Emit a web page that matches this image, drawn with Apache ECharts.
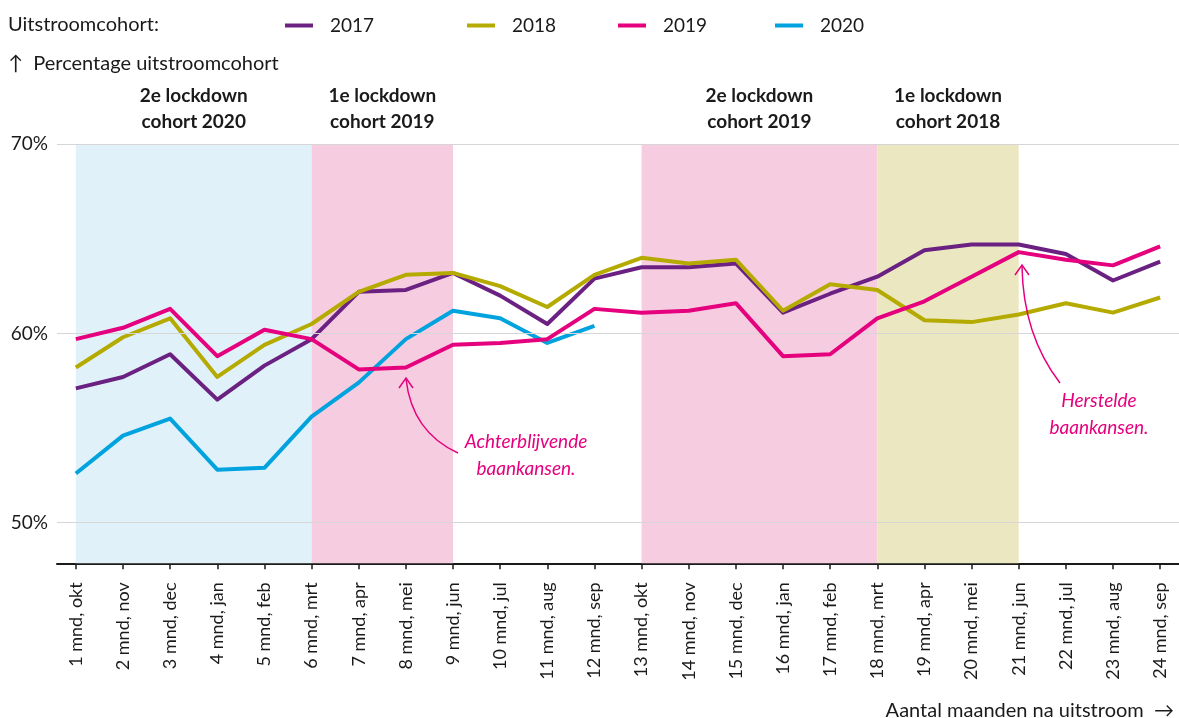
<!DOCTYPE html>
<html>
<head>
<meta charset="utf-8">
<script src="https://cdn.jsdelivr.net/npm/echarts@6/dist/echarts.min.js"></script>
<style>
  html, body { margin: 0; padding: 0; background: #fff; }
  #chart { width: 1179px; height: 718px; }
</style>
</head>
<body>
<div id="chart"></div>
<script>
// maanden na uitstroom
var categories = ['1 mnd, okt', '2 mnd, nov', '3 mnd, dec', '4 mnd, jan', '5 mnd, feb', '6 mnd, mrt',
    '7 mnd, apr', '8 mnd, mei', '9 mnd, jun', '10 mnd, jul', '11 mnd, aug', '12 mnd, sep',
    '13 mnd, okt', '14 mnd, nov', '15 mnd, dec', '16 mnd, jan', '17 mnd, feb', '18 mnd, mrt',
    '19 mnd, apr', '20 mnd, mei', '21 mnd, jun', '22 mnd, jul', '23 mnd, aug', '24 mnd, sep'];

// percentage uitstroomcohort
var cohort2017 = [57.1, 57.7, 58.9, 56.5, 58.3, 59.7, 62.2, 62.3, 63.2, 62.0, 60.5, 62.9,
    63.5, 63.5, 63.7, 61.1, 62.1, 63.0, 64.4, 64.7, 64.7, 64.2, 62.8, 63.8];
var cohort2018 = [58.2, 59.8, 60.8, 57.7, 59.4, 60.5, 62.2, 63.1, 63.2, 62.5, 61.4, 63.1,
    64.0, 63.7, 63.9, 61.2, 62.6, 62.3, 60.7, 60.6, 61.0, 61.6, 61.1, 61.9];
var cohort2019 = [59.7, 60.3, 61.3, 58.8, 60.2, 59.7, 58.1, 58.2, 59.4, 59.5, 59.7, 61.3,
    61.1, 61.2, 61.6, 58.8, 58.9, 60.8, 61.7, 63.0, 64.3, 63.9, 63.6, 64.6];
var cohort2020 = [52.6, 54.6, 55.5, 52.8, 52.9, 55.6, 57.4, 59.7, 61.2, 60.8, 59.5, 60.4];

var yTicks = [50, 60, 70];

// lockdown periodes (maandnummer van - tot)
var lockdowns = [
    { from: 1,  to: 6,  label: '2e lockdown\ncohort 2020', color: '#e0f1fa' },
    { from: 6,  to: 9,  label: '1e lockdown\ncohort 2019', color: '#f6cde0' },
    { from: 13, to: 18, label: '2e lockdown\ncohort 2019', color: '#f6cde0' },
    { from: 18, to: 21, label: '1e lockdown\ncohort 2018', color: '#ebe8c1' }
];

var colors = ['#6b2182', '#b5aa00', '#e5007d', '#00a3de'];
var names  = ['2017', '2018', '2019', '2020'];
var sets   = [cohort2017, cohort2018, cohort2019, cohort2020];
var font   = 'Lato';

function pairs(values)
{
    return values.map(function(v, i) { return [i + 1, v]; });
}

var monthIdx = categories.map(function(c, i) { return i + 1; });

var series = [];
sets.forEach(function(set, i)
{
    var s = {
        name: names[i],
        type: 'line',
        data: pairs(set),
        color: colors[i],
        symbol: 'none',
        z: 3 + (i == 2 ? 2 : i == 3 ? 1 : 0),
        lineStyle: { width: 4, color: colors[i], join: 'round' }
    };
    if(i == 0)
    {
        s.markArea = {
            silent: true,
            data: lockdowns.map(function(l)
            {
                return [
                    { xAxis: l.from, itemStyle: { color: l.color }, label: { show: true, formatter: l.label } },
                    { xAxis: l.to }
                ];
            }),
            label: {
                position: 'top',
                distance: 9,
                fontFamily: font,
                fontWeight: 'bold',
                fontSize: 19,
                lineHeight: 26,
                color: '#1a1a1a'
            }
        };
        s.markLine = {
            silent: true,
            symbol: 'none',
            label: { show: false },
            lineStyle: { color: '#d6d6d6', width: 1, type: 'solid' },
            data: yTicks.map(function(t) { return { yAxis: t }; })
        };
    }
    series.push(s);
});

var legendLeft = [280, 462, 613, 770];
var legends = names.map(function(n, i)
{
    return {
        data: [n],
        left: legendLeft[i],
        top: 11,
        icon: 'rect',
        itemWidth: 28,
        itemHeight: 4,
        textStyle: { fontFamily: font, fontSize: 19, color: '#1a1a1a', padding: [0, 0, 0, 12] }
    };
});

var chart = echarts.init(document.getElementById('chart'));
var option = {
    animation: false,
    backgroundColor: '#fff',
    legend: legends,
    title: [
        { text: 'Uitstroomcohort:', left: 3, top: 10, textStyle: { fontFamily: font, fontSize: 20, fontWeight: 'normal', color: '#1a1a1a' } },
        { text: '↑  Percentage uitstroomcohort', left: 3, top: 49, textStyle: { fontFamily: font, fontSize: 20, fontWeight: 'normal', color: '#1a1a1a' } },
        { text: 'Aantal maanden na uitstroom  →', right: 0, top: 696, textStyle: { fontFamily: font, fontSize: 20, fontWeight: 'normal', color: '#1a1a1a' } }
    ],
    grid: { left: 57, right: 0, top: 144.3, bottom: 154.7, containLabel: false },
    xAxis: {
        type: 'value',
        min: 0.6,
        max: 24.4,
        splitLine: { show: false },
        axisLine: { show: true, lineStyle: { color: '#1a1a1a', width: 2 } },
        axisTick: { show: true, customValues: monthIdx, length: 6, lineStyle: { color: '#1a1a1a', width: 1.5 } },
        axisLabel: {
            customValues: monthIdx,
            rotate: 90,
            margin: 19,
            fontFamily: font,
            fontSize: 18,
            color: '#1a1a1a',
            formatter: function(v) { return categories[Math.round(v) - 1] || ''; }
        }
    },
    yAxis: {
        type: 'value',
        min: 47.85,
        max: 70,
        splitLine: { show: false },
        axisLine: { show: false },
        axisTick: { show: false },
        axisLabel: {
            customValues: yTicks,
            margin: 9,
            fontFamily: font,
            fontSize: 19,
            color: '#1a1a1a',
            formatter: '{value}%'
        }
    },
    graphic: [
        { type: 'bezierCurve', silent: true, z: 20,
          shape: { x1: 458, y1: 453, x2: 406, y2: 379, cpx1: 412, cpy1: 432 },
          style: { stroke: '#e5007d', lineWidth: 1.5, fill: null } },
        { type: 'polyline', silent: true, z: 20,
          shape: { points: [[399, 388], [406, 378], [413, 388]] },
          style: { stroke: '#e5007d', lineWidth: 1.5, fill: null } },
        { type: 'text', silent: true, z: 20, x: 526, y: 428,
          style: { text: 'Achterblijvende\nbaankansen.', fontFamily: font, fontStyle: 'italic', fontSize: 19, lineHeight: 27, fill: '#e5007d', align: 'center' } },
        { type: 'bezierCurve', silent: true, z: 20,
          shape: { x1: 1060, y1: 383, x2: 1022, y2: 266, cpx1: 1023, cpy1: 335 },
          style: { stroke: '#e5007d', lineWidth: 1.5, fill: null } },
        { type: 'polyline', silent: true, z: 20,
          shape: { points: [[1015, 275], [1022, 265], [1029, 275]] },
          style: { stroke: '#e5007d', lineWidth: 1.5, fill: null } },
        { type: 'text', silent: true, z: 20, x: 1099, y: 387,
          style: { text: 'Herstelde\nbaankansen.', fontFamily: font, fontStyle: 'italic', fontSize: 19, lineHeight: 27, fill: '#e5007d', align: 'center' } }
    ],
    series: series
};

option && chart.setOption(option);
</script>
</body>
</html>
